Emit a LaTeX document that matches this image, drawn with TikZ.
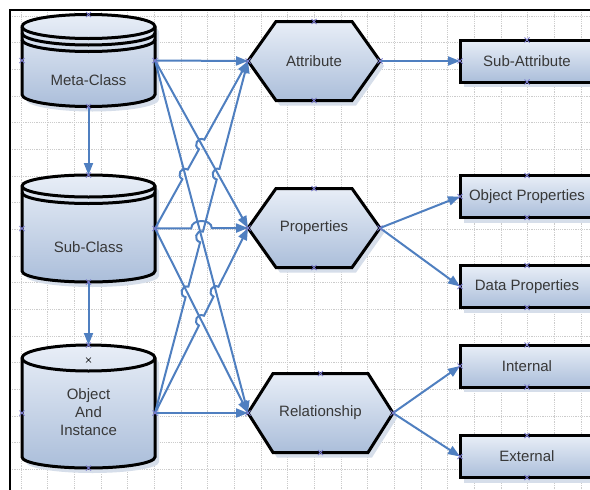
\documentclass[tikz,border=0pt]{standalone}
\usepackage{fontspec}
\setmainfont{Liberation Sans}
\usetikzlibrary{arrows.meta, calc, intersections, shadows}
\definecolor{linkblue}{HTML}{4F7FC0}
\definecolor{shapetop}{HTML}{E8EEF7}
\definecolor{shapebot}{HTML}{ABBEDA}
\definecolor{shadowgray}{HTML}{D6DEEA}
\definecolor{gridgray}{HTML}{CCCCCC}
\definecolor{textgray}{HTML}{383838}
\definecolor{pointblue}{HTML}{7A7ACC}
\newcommand{\shapefont}{\fontsize{15}{18}\selectfont}
\pgfdeclarelayer{gridlayer}
\pgfdeclarelayer{shapelayer}
\pgfsetlayers{gridlayer,shapelayer,main}

\begin{document}
\begin{tikzpicture}[
    x=1pt, y=-1pt,
    outline/.style  = {draw=black, line width=3pt, top color=shapetop, bottom color=shapebot,
                       drop shadow={shadow xshift=4pt, shadow yshift=-5pt, fill=shadowgray, opacity=1}},
    band/.style     = {draw=black, line width=3pt},
    cylbox/.style   = {rectangle, minimum width=133pt, inner sep=0pt, outer sep=0pt},
    hexbox/.style   = {rectangle, minimum height=79pt, inner sep=0pt, outer sep=0pt,
                       font=\shapefont, text=textgray},
    leaf/.style     = {rectangle, outline, minimum width=134pt, minimum height=42pt,
                       inner sep=0pt, outer sep=0pt, font=\shapefont, text=textgray},
    lbl/.style      = {font=\shapefont, text=textgray, align=center},
    conn/.style     = {-{Triangle[length=12pt, width=9pt]}, line width=2pt, draw=linkblue},
    jump/.style     = {bend left=90, looseness=1.7},
    gridline/.style = {draw=gridgray, line width=0.6pt, dash pattern=on 1.2pt off 1pt},
    cpt/.style      = {draw=pointblue, line width=0.8pt}
  ]
  \useasboundingbox (0,0) rectangle (590,490);

  % ── Page and grid ──────────────────────────────────────────────────────────
  \begin{pgfonlayer}{gridlayer}
    \fill[white] (0,0) rectangle (590,490);
    \foreach \gx in {0,...,21}
      \draw[gridline] ({21+26.67*\gx}, 10) -- ({21+26.67*\gx}, 490);
    \foreach \gy in {0,...,17}
      \draw[gridline] (10, {16+26.67*\gy}) -- (590, {16+26.67*\gy});
    \draw[line width=1.2pt] (590,10) -- (10,10) -- (10,490);
  \end{pgfonlayer}

  % ── Classes (cylinders) ────────────────────────────────────────────────────
  \node[cylbox, minimum height=92pt]  (meta) at (88.5, 60.5)  {};
  \node[cylbox, minimum height=107pt] (sub)  at (88.5, 228.5) {};
  \node[cylbox, minimum height=123pt] (obj)  at (88.5, 406.5) {};
  \coordinate (objR) at ([yshift=-6.5pt]obj.east);
  \coordinate (objL) at ([yshift=-6.5pt]obj.west);

  \node[lbl] (metatxt) at (88.5, 80)  {Meta-Class};
  \node[lbl] (subtxt)  at (88.5, 247) {Sub-Class};
  \node[lbl] (objtxt)  at (88.5, 412) {Object\\And\\Instance};

  % ── Hexagons ───────────────────────────────────────────────────────────────
  \node[hexbox, minimum width=132pt] (attr) at (314, 61)    {Attribute};
  \node[hexbox, minimum width=132pt] (prop) at (314, 228)   {Properties};
  \node[hexbox, minimum width=145pt] (rel)  at (320.5, 413) {Relationship};

  % ── Leaves ─────────────────────────────────────────────────────────────────
  \node[leaf] (subattr)  at (527, 61)    {Sub-Attribute};
  \node[leaf] (objprop)  at (527, 196.5) {Object Properties};
  \node[leaf] (dataprop) at (527, 286.5) {Data Properties};
  \node[leaf] (internal) at (527, 366)   {Internal};
  \node[leaf] (external) at (527, 456.5) {External};

  % ── Shape outlines ─────────────────────────────────────────────────────────
  \begin{pgfonlayer}{shapelayer}
    \draw[outline] ([yshift=-12pt]meta.north west) -- ([yshift=12pt]meta.south west)
      arc[start angle=180, end angle=360, x radius=66.5pt, y radius=12pt]
      -- ([yshift=-12pt]meta.north east)
      arc[start angle=0, end angle=180, x radius=66.5pt, y radius=12pt] -- cycle;
    \foreach \dy in {12pt, 18.5pt, 25pt}
      \draw[band] ([yshift=-\dy]meta.north west)
        arc[start angle=180, end angle=360, x radius=66.5pt, y radius=12pt];

    \draw[outline] ([yshift=-11pt]sub.north west) -- ([yshift=11pt]sub.south west)
      arc[start angle=180, end angle=360, x radius=66.5pt, y radius=11pt]
      -- ([yshift=-11pt]sub.north east)
      arc[start angle=0, end angle=180, x radius=66.5pt, y radius=11pt] -- cycle;
    \foreach \dy in {11pt, 17.5pt}
      \draw[band] ([yshift=-\dy]sub.north west)
        arc[start angle=180, end angle=360, x radius=66.5pt, y radius=11pt];

    \draw[outline] ([yshift=-13pt]obj.north west) -- ([yshift=11pt]obj.south west)
      arc[start angle=180, end angle=360, x radius=66.5pt, y radius=11pt]
      -- ([yshift=-13pt]obj.north east)
      arc[start angle=0, end angle=180, x radius=66.5pt, y radius=13pt] -- cycle;
    \draw[band] ([yshift=-13pt]obj.north west)
      arc[start angle=180, end angle=360, x radius=66.5pt, y radius=13pt];

    \foreach \h/\c in {attr/28pt, prop/28pt, rel/25pt}
      \draw[outline] (\h.west) -- ([xshift=\c]\h.north west) -- ([xshift=-\c]\h.north east)
        -- (\h.east) -- ([xshift=-\c]\h.south east) -- ([xshift=\c]\h.south west) -- cycle;
  \end{pgfonlayer}

  % ── Connectors ─────────────────────────────────────────────────────────────
  \draw[conn] (meta.south) -- (sub.north);
  \draw[conn] (sub.south)  -- (obj.north);

  \draw[conn, name path=mr] (meta.east) -- (rel.west);
  \draw[conn, name path=mp] (meta.east) -- (prop.west);
  \draw[conn, name path=sr] (sub.east)  -- (rel.west);
  \draw[conn] (meta.east) -- (attr.west);
  \draw[conn] (objR)      -- (rel.west);

  \path[name path=sa] (sub.east) -- (attr.west);
  \path[name path=oa] (objR)     -- (attr.west);
  \path[name path=op] (objR)     -- (prop.west);
  \path[name path=sp] (sub.east) -- (prop.west);
  \path[name intersections={of=sa and mr, by=x1}];
  \path[name intersections={of=sa and mp, by=x2}];
  \path[name intersections={of=oa and sr, by=x3}];
  \path[name intersections={of=oa and mr, by=x4}];
  \path[name intersections={of=oa and mp, by=x5}];
  \path[name intersections={of=op and sr, by=x6}];
  \path[name intersections={of=op and mr, by=x7}];
  \path[name intersections={of=sp and mr, by=x8}];
  \path[name intersections={of=sp and oa, by=x9}];

  % line jumps
  \draw[conn] (sub.east) -- ($(x1)!5.5pt!(sub.east)$) to[jump] ($(x1)!5.5pt!(attr.west)$)
    -- ($(x2)!5.5pt!(sub.east)$) to[jump] ($(x2)!5.5pt!(attr.west)$) -- (attr.west);
  \draw[conn] (objR) -- ($(x3)!5.5pt!(objR)$) to[jump] ($(x3)!5.5pt!(attr.west)$)
    -- ($(x4)!5.5pt!(objR)$) to[jump] ($(x4)!5.5pt!(attr.west)$)
    -- ($(x5)!5.5pt!(objR)$) to[jump] ($(x5)!5.5pt!(attr.west)$) -- (attr.west);
  \draw[conn] (objR) -- ($(x6)!5.5pt!(objR)$) to[jump] ($(x6)!5.5pt!(prop.west)$)
    -- ($(x7)!5.5pt!(objR)$) to[jump] ($(x7)!5.5pt!(prop.west)$) -- (prop.west);
  \draw[conn] (sub.east) -- ($(x8)!8pt!(sub.east)$) to[bend left=90, looseness=1.2]
    ($(x9)!8pt!(prop.west)$) -- (prop.west);

  \draw[conn] (attr.east) -- (subattr.west);
  \draw[conn] (prop.east) -- (objprop.west);
  \draw[conn] (prop.east) -- (dataprop.west);
  \draw[conn] (rel.east)  -- (internal.west);
  \draw[conn] (rel.east)  -- (external.west);

  % ── Connection points ──────────────────────────────────────────────────────
  \foreach \p in {meta.north, meta.south, meta.west, meta.east,
                  sub.north, sub.south, sub.west, sub.east,
                  obj.north, obj.south, objL, objR,
                  attr.north, attr.south, attr.west, attr.east,
                  prop.north, prop.south, prop.west, prop.east,
                  rel.north, rel.south, rel.west, rel.east,
                  subattr.north, subattr.south, subattr.west,
                  objprop.north, objprop.south, objprop.west,
                  dataprop.north, dataprop.south, dataprop.west,
                  internal.north, internal.south, internal.west,
                  external.north, external.south, external.west}
    \draw[cpt] (\p) +(-2.5pt,-2.5pt) -- +(2.5pt,2.5pt) +(-2.5pt,2.5pt) -- +(2.5pt,-2.5pt);
  \draw[line width=0.6pt] ([yshift=-15pt]obj.north) +(-2.5pt,-2.5pt) -- +(2.5pt,2.5pt)
    +(-2.5pt,2.5pt) -- +(2.5pt,-2.5pt);

\end{tikzpicture}
\end{document}
